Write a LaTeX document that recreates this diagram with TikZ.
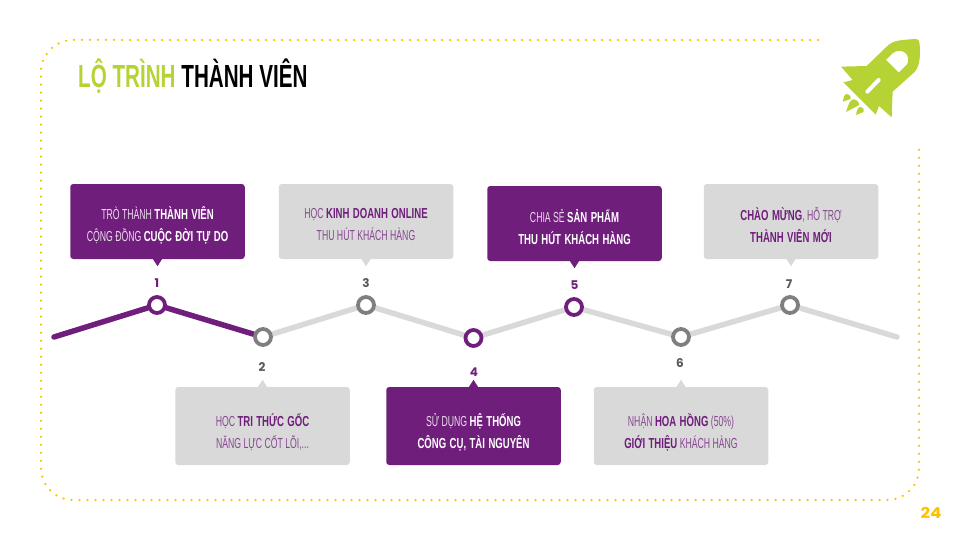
\documentclass[tikz,border=0pt]{standalone}
\usepackage{fontspec}
\setmainfont[FakeStretch=0.6, BoldFeatures={FakeStretch=0.66,WordSpace=1.3}]{Liberation Sans}
\newfontfamily\titlefont[FakeStretch=0.645]{Liberation Sans}
\newfontfamily\numfont{Poppins}
\newfontfamily\pagefont[FakeStretch=1.12]{Poppins}
\usetikzlibrary{calc,backgrounds}
\definecolor{plum}{HTML}{701E7C}
\definecolor{leaf}{HTML}{B5D334}
\definecolor{amber}{HTML}{FFC000}
\definecolor{track}{HTML}{D9D9D9}
\definecolor{ringgrey}{HTML}{7F7F7F}
\definecolor{numgrey}{HTML}{595959}
\colorlet{softplum}{plum!78!track}
\colorlet{softwhite}{white!85!plum}
\tikzset{
  frame/.style={amber, line width=2.5pt, line cap=round, dash pattern=on 0pt off 8pt, rounded corners=32pt},
  card/.style={minimum width=174.5pt, rounded corners=3pt, inner sep=0pt},
  cardtext/.style={align=center, inner sep=0pt, font=\fontsize{14.5}{22}\selectfont},
  lightline/.style={line width=5.5pt, track, line cap=round},
  darkline/.style={line width=5.5pt, plum, line cap=round},
  dot/.style={circle, fill=white, line width=3.8pt, minimum size=16pt, inner sep=0pt},
  dotplum/.style={dot, draw=plum},
  dotgrey/.style={dot, draw=ringgrey},
  num/.style={font=\numfont\bfseries\fontsize{12}{14}\selectfont, inner sep=0pt},
}
\newcommand{\hp}[1]{\textcolor{plum}{\textbf{#1}}}
\newcommand{\hw}[1]{\textcolor{white}{\textbf{#1}}}
% card: name, centre, height, fill, text colour, text drop, pointer side, pointer rise, text
\newcommand{\infocard}[9]{%
  \node[card, fill=#4, minimum height=#3pt] (b#1) at (#2) {};
  \fill[#4] ([xshift=-4.5pt]b#1.#7) -- ([yshift=#8pt]b#1.#7) -- ([xshift=4.5pt]b#1.#7) -- cycle;
  \node[cardtext, text=#5] (t#1) at ($(b#1.center)+(0,#6)$) {#9};
}
\begin{document}
\begin{tikzpicture}[x=1pt,y=-1pt]
\useasboundingbox (0,0) rectangle (960,540);

% dotted frame
\draw[frame] (818,40) -- (41,40) -- (41,500) -- (919,500) -- (919,146);

% heading
\node[anchor=base west, inner sep=0pt, font=\titlefont\bfseries\fontsize{32}{36}\selectfont] (head) at (78,88)
  {\textcolor{leaf}{LỘ TRÌNH} \textcolor{black}{THÀNH VIÊN}};

% rocket
\begin{scope}[shift={(780,30)}, x=0.3333pt, y=-0.3333pt]
  \fill[leaf, even odd rule]
    (183,110) -- (260,108) -- (325,45) .. controls (340,32) and (360,30) .. (405,27)
    .. controls (415,27) and (419,33) .. (419,42) .. controls (421,80) and (420,105) .. (405,125)
    -- (338,185) -- (335,262) -- (297,228) -- (287,254) -- (190,157) -- (218,150) -- cycle
    (318,90) -- (338,70) .. controls (350,60) and (365,60) .. (375,68) .. controls (385,76) and (387,90) .. (382,102)
    -- (356,128) -- cycle;
  \draw[white, line width=4pt, line cap=round] (262,185) -- (296,150);
  \fill[leaf] (189,215) .. controls (190,200) and (195,192) .. (200,192) .. controls (212,193) and (215,205) .. (210,208) -- cycle;
  \fill[leaf] (198,246) .. controls (205,225) and (210,208) .. (220,208) .. controls (232,208) and (240,220) .. (236,226) -- cycle;
  \fill[leaf] (228,255) .. controls (230,240) and (235,231) .. (241,231) .. controls (250,233) and (254,240) .. (251,246) -- cycle;
\end{scope}

% cards above the track
\infocard{1}{157.5,221.5}{75}{plum}{softwhite}{3.5}{south}{-7}{TRÒ THÀNH \hw{THÀNH VIÊN}\\CỘNG ĐỒNG \hw{CUỘC ĐỜI TỰ DO}}
\infocard{3}{366,221.5}{75}{track}{softplum}{3.5}{south}{-7}{HỌC \hp{KINH DOANH ONLINE}\\THU HÚT KHÁCH HÀNG}
\infocard{5}{574.5,223.5}{75}{plum}{softwhite}{3.5}{south}{-7}{CHIA SẺ \hw{SẢN PHẨM}\\\hw{THU HÚT KHÁCH HÀNG}}
\infocard{7}{791,221.5}{75}{track}{softplum}{3.5}{south}{-7}{\hp{CHÀO MỪNG}, HỖ TRỢ\\\hp{THÀNH VIÊN MỚI}}
% cards below the track
\infocard{2}{262.5,426}{78}{track}{softplum}{6}{north}{7}{HỌC \hp{TRI THỨC GỐC}\\NĂNG LỰC CỐT LÕI,...}
\infocard{4}{473.5,426}{78}{plum}{softwhite}{6}{north}{7}{SỬ DỤNG \hw{HỆ THỐNG}\\\hw{CÔNG CỤ, TÀI NGUYÊN}}
\infocard{6}{681,426}{78}{track}{softplum}{6}{north}{7}{NHẬN \hp{HOA HỒNG} (50\%)\\\hp{GIỚI THIỆU} KHÁCH HÀNG}

% track: rings on top, segments behind them
\coordinate (start) at (54,337);
\coordinate (finish) at (897,337);
\node[dotplum] (d1) at (157,305) {};
\node[dotgrey] (d2) at (263,337) {};
\node[dotgrey] (d3) at (366,305) {};
\node[dotplum] (d4) at (473.5,338) {};
\node[dotplum] (d5) at (574,307) {};
\node[dotgrey] (d6) at (681,337) {};
\node[dotgrey] (d7) at (790,305) {};
\begin{scope}[on background layer]
  \draw[lightline] (d2) -- (d3);
  \draw[lightline] (d3) -- (d4);
  \draw[lightline] (d4) -- (d5);
  \draw[lightline] (d5) -- (d6);
  \draw[lightline] (d6) -- (d7);
  \draw[lightline] (d7) -- (finish);
  \draw[darkline] (start) -- (d1);
  \draw[darkline] (d1) -- (d2);
\end{scope}

% step numbers
\node[num, text=plum] (n1) at (157,283) {1};
\node[num, text=numgrey] (n2) at (262,367) {2};
\node[num, text=numgrey] (n3) at (366,283) {3};
\node[num, text=plum] (n4) at (474,372) {4};
\node[num, text=plum] (n5) at (574.5,285) {5};
\node[num, text=numgrey] (n6) at (680,363) {6};
\node[num, text=numgrey] (n7) at (789,284) {7};

% page number
\node[font=\pagefont\bfseries\fontsize{15}{16}\selectfont, text=amber, inner sep=0pt] (page) at (931,513) {24};
\end{tikzpicture}
\end{document}
